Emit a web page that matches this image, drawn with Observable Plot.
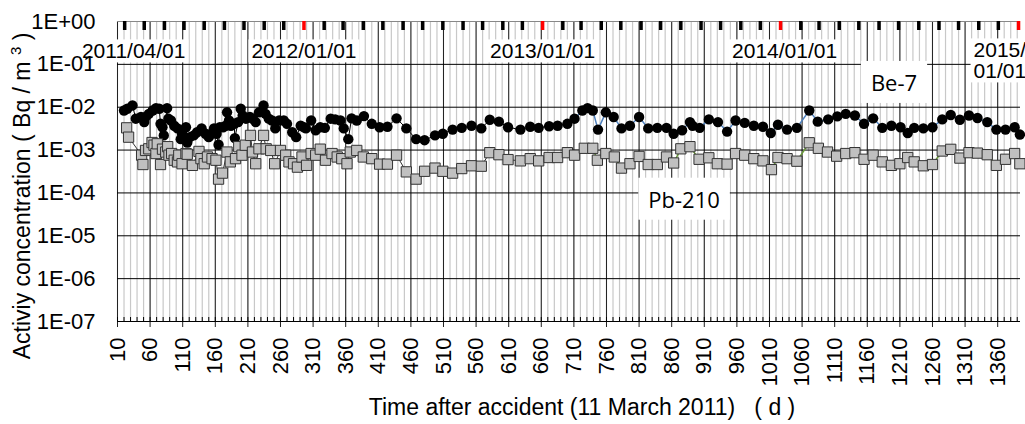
<!DOCTYPE html>
<html><head><meta charset="utf-8">
<script src="https://cdn.jsdelivr.net/npm/d3@7"></script>
<script src="https://cdn.jsdelivr.net/npm/@observablehq/plot@0.6"></script>
<style>body{margin:0;background:#fff;} svg{display:block}</style>
</head><body><div id="chart"></div>
<script>
// ---- data (days after 11 March 2011, Bq/m3) ----
const beDays = [20,25,33,38,46,51,53,58,64,69,74,76,79,81,86,88,92,97,102,107,109,115,117,121,127,132,139,145,150,154,158,162,165,167,172,176,178,181,184,189,190,195,199,202,207,213,217,222,227,234,237,242,247,252,258,265,270,278,284,291,296,299,307,314,321,328,337,344,352,357,364,369,377,388,400,412,424,438,453,468,481,497,509,524,538,553,568,581,595,609,628,643,656,672,685,700,711,723,731,739,747,759,771,783,796,810,824,838,852,863,876,888,892,903,917,931,945,958,972,986,1000,1012,1023,1037,1052,1071,1084,1100,1114,1127,1141,1155,1169,1183,1197,1211,1222,1232,1246,1260,1275,1288,1302,1316,1329,1344,1358,1372,1386,1394];
const beValues = [8.4e-3,9.2e-3,1.1e-2,5.4e-3,5.9e-3,4.5e-3,5.9e-3,7.0e-3,8.4e-3,9.5e-3,9.2e-3,4.1e-3,3.4e-3,2.2e-3,9.5e-3,5.4e-3,4.9e-3,3.7e-3,3.2e-3,1.8e-3,2.4e-3,3.4e-3,1.5e-3,2.0e-3,2.2e-3,2.6e-3,3.2e-3,2.4e-3,2.0e-3,2.4e-3,3.2e-3,2.4e-3,1.33e-3,3.4e-3,3.4e-3,3.7e-3,7.6e-3,4.9e-3,3.7e-3,4.1e-3,1.9e-3,4.5e-3,9.2e-3,6.4e-3,5.4e-3,5.9e-3,5.4e-3,4.5e-3,7.6e-3,1.1e-2,7.0e-3,5.4e-3,4.9e-3,3.2e-3,4.9e-3,4.9e-3,4.1e-3,2.6e-3,2.0e-3,3.7e-3,3.4e-3,3.2e-3,4.9e-3,2.9e-3,3.4e-3,3.3e-3,5.4e-3,5.2e-3,4.9e-3,3.2e-3,1.8e-3,5.5e-3,4.9e-3,6.2e-3,4.1e-3,3.4e-3,3.5e-3,5.5e-3,3.2e-3,1.8e-3,1.7e-3,2.2e-3,2.4e-3,3.0e-3,3.3e-3,3.7e-3,3.2e-3,5.1e-3,4.6e-3,3.4e-3,3.0e-3,3.5e-3,3.3e-3,3.6e-3,3.7e-3,4.1e-3,5.4e-3,8.4e-3,9.5e-3,8.4e-3,3.0e-3,7.6e-3,5.9e-3,3.2e-3,3.7e-3,5.9e-3,3.2e-3,3.3e-3,3.3e-3,2.4e-3,2.9e-3,4.5e-3,3.7e-3,3.3e-3,5.2e-3,4.5e-3,2.7e-3,4.9e-3,4.3e-3,3.7e-3,3.5e-3,2.5e-3,3.9e-3,3.0e-3,3.3e-3,8.4e-3,4.6e-3,5.2e-3,6.1e-3,7.0e-3,6.4e-3,4.1e-3,5.5e-3,3.3e-3,3.7e-3,3.4e-3,2.5e-3,3.3e-3,3.2e-3,3.4e-3,5.2e-3,6.6e-3,5.1e-3,6.4e-3,5.6e-3,4.5e-3,3.0e-3,3.0e-3,3.4e-3,2.3e-3];
const pbDays = [24,27,47,49,53,58,63,66,69,71,76,79,84,87,89,93,97,102,104,109,115,117,125,135,138,143,148,155,161,165,171,178,183,191,196,201,206,214,217,222,227,234,238,245,251,260,268,273,280,286,293,300,307,314,321,329,339,347,354,362,367,377,387,400,412,424,438,453,468,481,497,509,524,538,553,568,581,595,609,628,643,656,672,685,700,711,726,739,746,759,772,783,796,810,824,838,852,863,874,888,902,917,930,945,958,972,986,1000,1013,1023,1037,1052,1071,1085,1099,1113,1127,1141,1155,1169,1183,1197,1210,1222,1232,1246,1260,1275,1288,1302,1316,1329,1344,1358,1372,1386,1394];
const pbValues = [3.3e-3,2.0e-3,7.6e-4,4.6e-4,9.8e-4,1.07e-3,1.5e-3,1.3e-3,8.3e-4,1.4e-3,4.6e-4,1.05e-3,9.0e-4,1.2e-3,7.6e-4,8.3e-4,5.8e-4,5.3e-4,7.6e-4,4.8e-4,8.3e-4,8.0e-4,4.4e-4,9.3e-4,6.3e-4,4.8e-4,6.9e-4,6.3e-4,5.8e-4,2.1e-4,2.9e-4,9.0e-4,5.3e-4,6.3e-4,1.2e-3,7.6e-4,1.3e-3,2.2e-3,9.0e-4,4.8e-4,1.07e-3,2.2e-3,1.07e-3,9.8e-4,4.8e-4,9.8e-4,7.6e-4,5.3e-4,4.8e-4,4.0e-4,6.9e-4,4.4e-4,8.3e-4,7.6e-4,1.05e-3,5.8e-4,8.3e-4,6.9e-4,6.3e-4,4.8e-4,9.0e-4,9.8e-4,6.9e-4,6.3e-4,4.7e-4,4.7e-4,7.6e-4,3.1e-4,2.1e-4,3.2e-4,3.8e-4,3.2e-4,2.9e-4,3.7e-4,4.3e-4,4.2e-4,8.7e-4,7.8e-4,6.0e-4,5.6e-4,6.3e-4,5.6e-4,6.7e-4,6.7e-4,8.7e-4,7.6e-4,1.1e-3,1.1e-3,5.8e-4,8.3e-4,6.9e-4,3.8e-4,4.8e-4,7.1e-4,4.6e-4,4.6e-4,6.9e-4,5.0e-4,1.07e-3,1.2e-3,6.1e-4,6.6e-4,4.8e-4,4.7e-4,8.3e-4,7.6e-4,6.3e-4,5.6e-4,3.5e-4,6.7e-4,6.3e-4,5.5e-4,1.48e-3,1.1e-3,9.0e-4,7.2e-4,8.3e-4,8.7e-4,6.1e-4,7.6e-4,5.3e-4,4.4e-4,4.8e-4,6.7e-4,5.3e-4,4.3e-4,4.6e-4,9.5e-4,1.04e-3,6.5e-4,8.7e-4,8.5e-4,7.8e-4,4.4e-4,6.1e-4,8.3e-4,4.8e-4];

const xTicks = [10,60,110,160,210,260,310,360,410,460,510,560,610,660,710,760,810,860,910,960,1010,1060,1110,1160,1210,1260,1310,1360];
const xTickLabels = ["10","60","110","160","210","260","310","360","410","460","510","560","610","660","710","760","810","860","910","960","1010","1060","1110","1160","1210","1260","1310","1360"];
const yTicks = [1e-7,1e-6,1e-5,1e-4,1e-3,1e-2,1e-1,1];
const yTickLabels = ["1E-07","1E-06","1E-05","1E-04","1E-03","1E-02","1E-01","1E+00"];
const dateLabels = ["2011/04/01","2012/01/01","2013/01/01","2014/01/01","2015/01/01"];
const seriesNames = ["Be-7","Pb-210"];
const seriesLabelDays = [1201, 879];
const seriesLabelValues = [0.035, 6.6e-5];
const xTitle = "Time after accident (11 March 2011)\u00a0\u00a0\u00a0( d )";
const yTitle = ["Activiy concentration ( Bq / m ", "3", " )"];

// ---- derived tables ----
const origin = Date.UTC(2011, 2, 11);
const dayOf = s => { const [y,m,d] = s.split("/").map(Number); return (Date.UTC(y, m-1, d) - origin) / 864e5; };
const be = beDays.map((d,i) => ({day: d, value: beValues[i]}));
const pb = pbDays.map((d,i) => ({day: d, value: pbValues[i]}));
const months = d3.utcMonth.range(new Date(Date.UTC(2011,3,1)), new Date(Date.UTC(2015,0,2)))
  .map(m => ({day: (m - origin) / 864e5, jan: m.getUTCMonth() === 0}));
const xMinor = d3.range(10, 1395, 10);
const dl = dateLabels.map(s => ({text: s, day: dayOf(s)}));
const sl = seriesNames.map((n,i) => ({text: n, day: seriesLabelDays[i], value: seriesLabelValues[i]}));

const font = "'Liberation Sans', Arial, sans-serif";
const chart = Plot.plot({
  width: 1025, height: 424,
  marginLeft: 117, marginRight: 5, marginTop: 21, marginBottom: 103,
  x: {domain: [10, 1395]},
  y: {type: "log", domain: [1e-7, 1]},
  style: {fontFamily: font, fontSize: "22px", background: "#fff", color: "#000"},
  marks: [
    Plot.ruleX(xMinor, {stroke: "#c8c8c8", strokeWidth: 1.2}),
    Plot.ruleX(xTicks, {stroke: "#222", insetBottom: -6}),
    Plot.ruleY(yTicks.slice(0, -1), {stroke: "#000"}),
    Plot.ruleY([1], {stroke: "#888"}),
    Plot.ruleX(xMinor, {stroke: "#000", insetTop: 296}),
    Plot.ruleX(months.filter(d => !d.jan), {x: "day", stroke: "#000", strokeWidth: 3.5, insetBottom: 291}),
    Plot.ruleX(months.filter(d => d.jan), {x: "day", stroke: "#ff0000", strokeWidth: 3.5, insetBottom: 291}),
    Plot.text([dl[0]], {x: "day", text: "text", frameAnchor: "top", dy: 22, dx: 9, fontSize: 21}),
    Plot.text([dl[1], dl[2]], {x: "day", text: "text", frameAnchor: "top", dy: 22, fontSize: 21}),
    Plot.text([dl[3]], {x: "day", text: "text", frameAnchor: "top", dy: 22, dx: 4, fontSize: 21}),
    Plot.text([dl[4]], {x: "day", text: d => d.text.replace("/", "/\n"), frameAnchor: "top", dy: 21, dx: -45, textAnchor: "start", lineHeight: 1.0, fontSize: 21}),
    Plot.text(sl, {x: "day", y: "value", text: "text", fontFamily: "'Open Sans', 'Noto Sans', sans-serif", fontSize: 22}),
    Plot.line(be.filter(d => d.day <= 700), {x: "day", y: "value", stroke: "#000", strokeWidth: 1}),
    Plot.line(be.filter(d => d.day >= 700), {x: "day", y: "value", stroke: "#4f81bd", strokeWidth: 1.5}),
    Plot.line(pb.filter(d => d.day <= 700), {x: "day", y: "value", stroke: "#333", strokeWidth: 1}),
    Plot.line(pb.filter(d => d.day >= 700), {x: "day", y: "value", stroke: "#6a9a3a", strokeWidth: 1.5}),
    Plot.dot(be, {x: "day", y: "value", r: 5.2, fill: "#000"}),
    Plot.dot(pb, {x: "day", y: "value", symbol: "square", r: 5.8, fill: "#c0c0c0", stroke: "#333", strokeWidth: 1}),
    Plot.axisX({ticks: xTicks, tickSize: 0, tickPadding: 16, tickRotate: -90, fontSize: 22, label: null,
      tickFormat: d => xTickLabels[xTicks.indexOf(d)]}),
    Plot.axisY({ticks: yTicks, tickSize: 0, tickPadding: 22, fontSize: 22, label: null,
      tickFormat: d => yTickLabels[yTicks.indexOf(d)]})
  ]
});
document.getElementById("chart").append(chart);

// white boxes behind annotation texts
const svg = d3.select(chart);
svg.selectAll('g[aria-label="text"] text').each(function() {
  const b = this.getBBox();
  const isDate = this.textContent.includes("/");
  const px = isDate ? 3 : 10, py = isDate ? 0 : 6;
  const r = document.createElementNS("http://www.w3.org/2000/svg", "rect");
  r.setAttribute("x", b.x - px); r.setAttribute("y", b.y - py);
  r.setAttribute("width", b.width + 2*px); r.setAttribute("height", b.height + 2*py);
  r.setAttribute("fill", "#fff"); r.setAttribute("stroke", "none");
  const t = this.getAttribute("transform"); if (t) r.setAttribute("transform", t);
  this.parentNode.insertBefore(r, this);
});

// axis titles
svg.append("text").attr("x", 582).attr("y", 415).attr("text-anchor", "middle")
  .attr("font-family", font).attr("font-size", 23).style("white-space", "pre").text(xTitle);
const yt = svg.append("text").attr("transform", "translate(30,196) rotate(-90)").attr("text-anchor", "middle")
  .attr("font-family", font).attr("font-size", 23).style("white-space", "pre");
yt.append("tspan").text(yTitle[0]);
yt.append("tspan").attr("font-size", 15).attr("dy", -9).text(yTitle[1]);
yt.append("tspan").attr("dy", 9).text(yTitle[2]);
</script>
</body></html>
